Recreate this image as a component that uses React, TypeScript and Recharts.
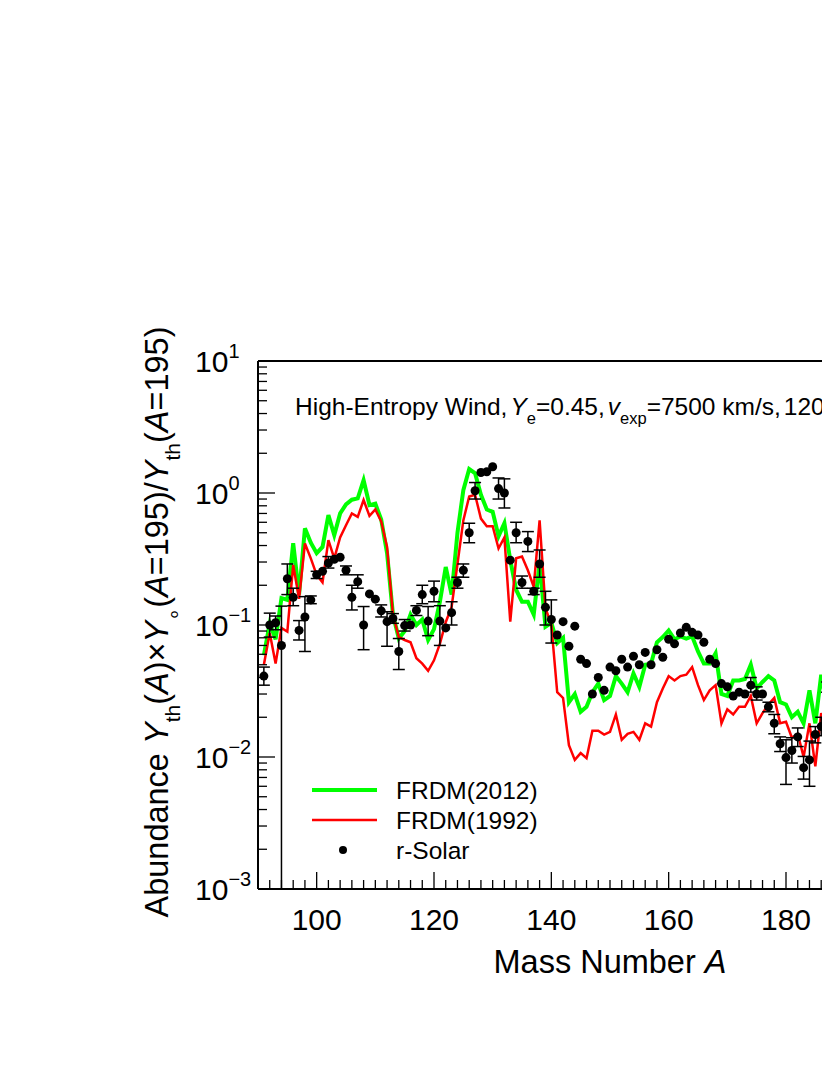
import React from 'react';
import { ComposedChart, Line, Scatter, ErrorBar, XAxis, YAxis, Legend } from 'recharts';

const FONT = '"Liberation Sans", Arial, Helvetica, sans-serif';

// mass numbers A shared by the model curves and the solar points
const massNumbers = [
  91, 92, 93, 94, 95, 96, 97, 98, 99, 100,
  101, 102, 103, 104, 105, 106, 107, 108, 109, 110,
  111, 112, 113, 114, 115, 116, 117, 118, 119, 120,
  121, 122, 123, 124, 125, 126, 127, 128, 129, 130,
  131, 132, 133, 134, 135, 136, 137, 138, 139, 140,
  141, 142, 143, 144, 145, 146, 147, 148, 149, 150,
  151, 152, 153, 154, 155, 156, 157, 158, 159, 160,
  161, 162, 163, 164, 165, 166, 167, 168, 169, 170,
  171, 172, 173, 174, 175, 176, 177, 178, 179, 180,
  181, 182, 183, 184, 185, 186, 187, 188,
];

const frdm2012 = [
  0.059, 0.103, 0.078, 0.16, 0.155, 0.416, 0.17, 0.54, 0.42, 0.35,
  0.39, 0.68, 0.48, 0.7, 0.82, 0.89, 0.91, 1.25, 0.81, 0.83,
  0.63, 0.35, 0.12, 0.079, 0.09, 0.12, 0.1, 0.11, 0.077, 0.093,
  0.15, 0.275, 0.17, 0.5, 1.05, 1.52, 1.41, 0.97, 0.75, 0.72,
  0.47, 0.59, 0.31, 0.185, 0.15, 0.15, 0.12, 0.295, 0.097, 0.104,
  0.073, 0.08, 0.026, 0.03, 0.022, 0.024, 0.031, 0.036, 0.027, 0.029,
  0.041, 0.036, 0.031, 0.043, 0.034, 0.05, 0.051, 0.074, 0.081, 0.091,
  0.078, 0.082, 0.079, 0.082, 0.063, 0.051, 0.051, 0.061, 0.03, 0.029,
  0.038, 0.038, 0.039, 0.05, 0.033, 0.037, 0.041, 0.038, 0.026, 0.025,
  0.02, 0.022, 0.018, 0.032, 0.018, 0.042, 0.024, 0.048,
];

const frdm1992 = [
  0.05, 0.087, 0.051, 0.095, 0.089, 0.285, 0.158, 0.415, 0.32, 0.24,
  0.21, 0.44, 0.32, 0.46, 0.57, 0.7, 0.66, 0.885, 0.67, 0.75,
  0.61, 0.39, 0.12, 0.081, 0.077, 0.074, 0.056, 0.051, 0.045, 0.054,
  0.072, 0.105, 0.137, 0.29, 0.62, 0.94, 0.97, 0.64, 0.56, 0.56,
  0.38, 0.46, 0.106, 0.32, 0.33, 0.26, 0.195, 0.62, 0.135, 0.1,
  0.031, 0.028, 0.0123, 0.0095, 0.0107, 0.0098, 0.0158, 0.0158, 0.0148, 0.0155,
  0.021, 0.0135, 0.015, 0.0155, 0.0135, 0.018, 0.017, 0.026, 0.033, 0.041,
  0.038, 0.041, 0.042, 0.048, 0.035, 0.027, 0.032, 0.035, 0.018, 0.023,
  0.021, 0.024, 0.024, 0.029, 0.018, 0.0215, 0.025, 0.028, 0.018, 0.0185,
  0.014, 0.015, 0.01, 0.018, 0.0085, 0.0215, 0.015, 0.03,
];

const rSolar = [
  0.041, 0.1, 0.104, 0.07, 0.224, 0.162, 0.091, 0.115, 0.155, 0.24,
  0.255, 0.295, 0.315, 0.326, 0.26, 0.162, 0.213, 0.1, 0.172, 0.157,
  0.128, 0.106, 0.112, 0.063, 0.099, 0.1, 0.129, 0.17, 0.107, 0.18,
  0.107, 0.095, 0.124, 0.21, 0.26, 0.5, 1.04, 1.43, 1.45, 1.58,
  1.08, 1.0, 0.31, 0.5, 0.21, 0.43, 0.18, 0.29, 0.136, 0.11,
  0.084, 0.106, 0.069, 0.098, 0.055, 0.051, 0.03, 0.04, 0.032, 0.048,
  0.045, 0.055, 0.048, 0.058, 0.05, 0.062, 0.05, 0.065, 0.057, 0.078,
  0.072, 0.087, 0.096, 0.088, 0.084, 0.074, 0.055, 0.051, 0.036, 0.034,
  0.029, 0.031, 0.03, 0.035, 0.03, 0.03, 0.024, 0.018, 0.0126, 0.0099,
  0.0112, 0.0142, 0.0083, 0.0095, 0.0148, 0.017, 0.034, 0.062,
];

// lower / upper ends of the solar error bars (null = no bar drawn)
const rSolarLow = [
  0.035, 0.081, 0.092, 0.001, 0.17, 0.14, 0.077, 0.063, 0.145, 0.225,
  null, 0.27, null, null, 0.24, 0.13, 0.19, 0.065, null, null,
  0.115, 0.069, 0.103, 0.046, 0.09, null, 0.118, 0.145, 0.083, 0.15,
  0.07, null, 0.1, 0.19, 0.23, 0.42, 0.9, null, null, null,
  0.9, 0.77, null, 0.42, 0.19, 0.36, 0.17, 0.23, 0.1, 0.073,
  null, null, null, null, null, null, null, null, null, null,
  null, null, null, null, null, null, null, null, null, null,
  null, null, null, null, null, null, null, null, null, null,
  null, null, null, 0.031, 0.027, null, 0.022, 0.015, 0.011, 0.0062,
  0.009, 0.012, 0.0068, 0.006, 0.0128, 0.0145, 0.031, null,
];

const rSolarHigh = [
  0.048, 0.123, 0.117, 0.139, 0.29, 0.19, 0.108, 0.164, 0.166, 0.255,
  null, 0.33, null, null, 0.28, 0.2, 0.24, 0.138, null, null,
  0.142, 0.126, 0.122, 0.079, 0.11, null, 0.14, 0.2, 0.138, 0.215,
  0.14, null, 0.15, 0.23, 0.29, 0.59, 1.2, null, null, null,
  1.3, 1.28, null, 0.6, 0.235, 0.51, 0.19, 0.37, 0.18, 0.155,
  null, null, null, null, null, null, null, null, null, null,
  null, null, null, null, null, null, null, null, null, null,
  null, null, null, null, null, null, null, null, null, null,
  null, null, null, 0.04, 0.034, null, 0.026, 0.021, 0.0142, 0.0135,
  0.014, 0.0166, 0.0101, 0.0132, 0.017, 0.02, 0.037, null,
];

const xTicks = [
  90, 92, 94, 96, 98, 100, 102, 104, 106, 108, 110, 112, 114, 116, 118, 120,
  122, 124, 126, 128, 130, 132, 134, 136, 138, 140, 142, 144, 146, 148, 150,
  152, 154, 156, 158, 160, 162, 164, 166, 168, 170, 172, 174, 176, 178, 180,
  182, 184, 186, 188, 190, 192, 194, 196, 198, 200, 202, 204, 206, 208, 210,
];
const xMajorTicks = [100, 120, 140, 160, 180, 200];
const xLabelTicks = [100, 120, 140, 160, 180];

const yTicks = [
  0.001, 0.002, 0.003, 0.004, 0.005, 0.006, 0.007, 0.008, 0.009,
  0.01, 0.02, 0.03, 0.04, 0.05, 0.06, 0.07, 0.08, 0.09,
  0.1, 0.2, 0.3, 0.4, 0.5, 0.6, 0.7, 0.8, 0.9,
  1, 2, 3, 4, 5, 6, 7, 8, 9,
  10,
];
const yLabelTicks = [0.001, 0.01, 0.1, 1, 10];
const yLabelExponents = ['\u22123', '\u22122', '\u22121', '0', '1'];

const legendOrder = ['frdm2012', 'frdm1992', 'solar'];

const rows = massNumbers.map((A, i) => ({
  A,
  frdm2012: frdm2012[i],
  frdm1992: frdm1992[i],
  solar: rSolar[i],
  solarErr:
    rSolarLow[i] == null
      ? undefined
      : [rSolar[i] - (rSolarLow[i] as number), (rSolarHigh[i] as number) - rSolar[i]],
}));

const MAJOR = 17;
const MINOR = 9;

const BottomTick = ({ x, y, payload }: any) => {
  const major = xMajorTicks.includes(payload.value);
  return (
    <g>
      <line x1={x} y1={y} x2={x} y2={y - (major ? MAJOR : MINOR)} stroke="#000" strokeWidth={1.3} />
      {xLabelTicks.includes(payload.value) && (
        <text x={x} y={y + 41} textAnchor="middle" fontSize={30} fontFamily={FONT} fill="#000">
          {payload.value}
        </text>
      )}
    </g>
  );
};

const TopTick = ({ x, y, payload }: any) => {
  const major = xMajorTicks.includes(payload.value);
  return <line x1={x} y1={y} x2={x} y2={y + (major ? MAJOR : MINOR)} stroke="#000" strokeWidth={1.3} />;
};

const LeftTick = ({ x, y, payload }: any) => {
  const idx = yLabelTicks.indexOf(payload.value);
  const major = idx >= 0;
  return (
    <g>
      <line x1={x} y1={y} x2={x + (major ? MAJOR : MINOR)} y2={y} stroke="#000" strokeWidth={1.3} />
      {major && (
        <text x={x - 63} y={y + 11} fontSize={30} fontFamily={FONT} fill="#000">
          10
          <tspan dy={-14} fontSize={20}>
            {yLabelExponents[idx]}
          </tspan>
        </text>
      )}
    </g>
  );
};

const RightTick = ({ x, y, payload }: any) => {
  const major = yLabelTicks.includes(payload.value);
  return <line x1={x} y1={y} x2={x - (major ? MAJOR : MINOR)} y2={y} stroke="#000" strokeWidth={1.3} />;
};

const seriesWidth: Record<string, number> = { frdm2012: 4, frdm1992: 2.5 };

const renderLegend = (props: any) => {
  const items = [...(props.payload || [])].sort(
    (a: any, b: any) => legendOrder.indexOf(a.dataKey) - legendOrder.indexOf(b.dataKey)
  );
  return (
    <svg width={260} height={100}>
      {items.map((entry: any, i: number) => {
        const cy = 17 + i * 30;
        return (
          <g key={entry.value}>
            {entry.dataKey === 'solar' ? (
              <circle cx={45} cy={cy} r={4} fill="#000" />
            ) : (
              <line x1={14} x2={79} y1={cy} y2={cy} stroke={entry.color} strokeWidth={seriesWidth[entry.dataKey] || 3} />
            )}
            <text x={98} y={cy + 8.5} fontSize={24.5} fontFamily={FONT} fill="#000">
              {entry.value}
            </text>
          </g>
        );
      })}
    </svg>
  );
};

const SolarDot = (props: any) => <circle cx={props.cx} cy={props.cy} r={4.5} fill="#000" />;

export default function App() {
  return (
    <div style={{ width: 822, height: 1000, overflow: 'hidden' }}>
      <ComposedChart
        width={1100}
        height={1000}
        data={rows}
        margin={{ top: 333, right: 126, bottom: 19, left: 0 }}
      >
        <XAxis
          xAxisId="b"
          dataKey="A"
          type="number"
          domain={[90, 210]}
          allowDataOverflow
          ticks={xTicks}
          interval={0}
          height={100}
          tickSize={0}
          tickMargin={0}
          tickLine={false}
          tick={<BottomTick />}
          axisLine={{ stroke: '#000', strokeWidth: 2 }}
        />
        <XAxis
          xAxisId="t"
          orientation="top"
          type="number"
          domain={[90, 210]}
          allowDataOverflow
          ticks={xTicks}
          interval={0}
          height={20}
          tickSize={0}
          tickMargin={0}
          tickLine={false}
          tick={<TopTick />}
          axisLine={{ stroke: '#000', strokeWidth: 2 }}
        />
        <YAxis
          yAxisId="l"
          type="number"
          scale="log"
          domain={[0.001, 10]}
          allowDataOverflow
          ticks={yTicks}
          interval={0}
          width={250}
          tickSize={0}
          tickMargin={0}
          tickLine={false}
          tick={<LeftTick />}
          axisLine={{ stroke: '#000', strokeWidth: 2 }}
        />
        <YAxis
          yAxisId="r"
          orientation="right"
          type="number"
          scale="log"
          domain={[0.001, 10]}
          allowDataOverflow
          ticks={yTicks}
          interval={0}
          width={20}
          tickSize={0}
          tickMargin={0}
          tickLine={false}
          tick={<RightTick />}
          axisLine={{ stroke: '#000', strokeWidth: 2 }}
        />
        <Line
          xAxisId="b"
          yAxisId="l"
          dataKey="frdm2012"
          name="FRDM(2012)"
          stroke="#00ff00"
          strokeWidth={4}
          dot={false}
          activeDot={false}
          isAnimationActive={false}
        />
        <Line
          xAxisId="b"
          yAxisId="l"
          dataKey="frdm1992"
          name="FRDM(1992)"
          stroke="#ff0000"
          strokeWidth={2.5}
          dot={false}
          activeDot={false}
          isAnimationActive={false}
        />
        <Scatter
          xAxisId="b"
          yAxisId="l"
          dataKey="solar"
          name="r-Solar"
          fill="#000"
          shape={<SolarDot />}
          isAnimationActive={false}
        >
          <ErrorBar dataKey="solarErr" direction="y" width={6} stroke="#000" strokeWidth={1.5} isAnimationActive={false} />
        </Scatter>
        <Legend
          layout="vertical"
          align="center"
          verticalAlign="middle"
          content={renderLegend}
          wrapperStyle={{ left: 290, top: 765, width: 260, height: 100 }}
        />
        <text x={287} y={407} fontSize={24.5} fontFamily={FONT} fill="#000">
          High-Entropy Wind,
          <tspan fontStyle="italic" dx={3}>Y</tspan>
          <tspan baselineShift="sub" fontSize={16.5}>e</tspan>
          <tspan>=0.45,</tspan>
          <tspan fontStyle="italic" dx={3}>v</tspan>
          <tspan baselineShift="sub" fontSize={16.5}>exp</tspan>
          <tspan>=7500 km/s,</tspan>
          <tspan dx={3}>120</tspan>
        </text>
        <text x={602} y={965} textAnchor="middle" fontSize={32.5} fontFamily={FONT} fill="#000">
          Mass Number <tspan fontStyle="italic">A</tspan>
        </text>
        <text
          transform="rotate(-90)"
          x={-614}
          y={160}
          textAnchor="middle"
          fontSize={32.5}
          fontFamily={FONT}
          fill="#000"
        >
          Abundance <tspan fontStyle="italic">Y</tspan>
          <tspan baselineShift="sub" fontSize={21}>th</tspan>
          <tspan>(</tspan>
          <tspan fontStyle="italic">A</tspan>
          <tspan>)×</tspan>
          <tspan fontStyle="italic">Y</tspan>
          <tspan baselineShift="sub" fontSize={21}>∘</tspan>
          <tspan>(</tspan>
          <tspan fontStyle="italic">A</tspan>
          <tspan>=195)/</tspan>
          <tspan fontStyle="italic">Y</tspan>
          <tspan baselineShift="sub" fontSize={21}>th</tspan>
          <tspan>(</tspan>
          <tspan fontStyle="italic">A</tspan>
          <tspan>=195)</tspan>
        </text>
      </ComposedChart>
    </div>
  );
}
